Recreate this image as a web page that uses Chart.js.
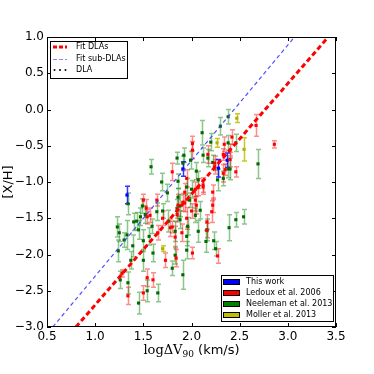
<!DOCTYPE html>
<html>
<head>
<meta charset="utf-8">
<script src="https://cdn.jsdelivr.net/npm/chart.js@4.4.0/dist/chart.umd.min.js"></script>
<style>
html,body{margin:0;padding:0;background:#fff;}
</style>
</head>
<body>
<canvas id="myChart" width="374" height="374"></canvas>
<script>
// values
const thisWorkX = [1.33, 1.91, 2.28, 2.37]
const thisWorkY = [-1.18, -0.82, -0.81, -0.70]
const thisWorkErr = [0.12, 0.10, 0.12, 0.10]

const mollerX = [2.47, 2.545, 2.265, 1.70]
const mollerY = [-0.12, -0.55, -0.46, -1.92]
const mollerErr = [0.06, 0.16, 0.06, 0.04]

const ledouxX = [2.67, 2.86, 2.46, 2.21, 2.16, 2.34, 2.40, 2.33, 2.24, 2.01, 2.12, 2.07, 2.04, 1.91, 1.28, 1.34, 1.54, 1.50, 1.57,
    1.53, 1.78, 1.73, 1.60, 1.83, 1.84, 2.01, 2.16, 2.27, 1.80, 2.05, 2.22, 1.80, 1.50, 1.54, 1.86, 1.93, 1.64, 2.01, 2.17, 2.42,
    2.33, 2.24, 2.12, 2.22, 1.93, 2.04, 2.35, 2.40, 1.95, 1.70, 1.65, 1.85, 1.95, 1.90, 2.00]
const ledouxY = [-0.22, -0.48, -0.86, -1.41, -1.67, -0.48, -0.56, -0.88, -0.74, -0.56, -1.04, -1.07, -1.25, -1.28, -2.26, -2.57, -2.32, -2.53, -1.46,
    -1.36, -1.63, -2.08, -2.35, -1.76, -2.05, -1.98, -1.55, -2.02, -1.62, -1.32, -1.32, -0.86, -1.25, -1.48, -1.32, -1.29, -1.25, -0.47, -0.62, -0.38,
    -0.62, -0.79, -1.07, -1.14, -1.14, -1.10, -0.83, -0.69, -0.95, -1.50, -1.70, -1.45, -1.50, -1.70, -1.40]
const ledouxErr = [0.15, 0.05, 0.07, 0.15, 0.10, 0.10, 0.08, 0.12, 0.10, 0.12, 0.10, 0.12, 0.15, 0.12, 0.05, 0.12, 0.12, 0.10, 0.10,
    0.12, 0.12, 0.10, 0.10, 0.15, 0.12, 0.08, 0.10, 0.10, 0.08, 0.12, 0.10, 0.12, 0.08, 0.10, 0.15, 0.12, 0.08, 0.10, 0.12, 0.10,
    0.08, 0.10, 0.10, 0.10, 0.12, 0.10, 0.08, 0.10, 0.12, 0.10, 0.10, 0.10, 0.15, 0.12, 0.10]

const neelemanX = [1.23, 1.25, 1.24, 1.33, 1.34, 1.37, 1.39, 1.43, 1.45, 1.49, 1.52, 1.50, 1.50, 1.56, 1.60, 1.59, 1.34, 1.26, 1.45, 1.65,
    1.54, 1.76, 1.85, 1.88, 1.96, 1.95, 1.83, 1.83, 1.80, 1.91, 1.95, 2.04, 2.09, 2.07, 2.15, 2.16, 2.23, 2.25, 2.39, 2.46,
    2.54, 1.58, 1.69, 1.92, 1.47, 1.64, 1.88, 1.95, 2.11, 1.99, 2.12, 2.17, 1.91, 1.85, 2.30, 2.38, 2.22, 2.07, 2.27, 1.86,
    1.86, 2.38, 2.33, 2.46, 2.40, 2.69, 2.38, 2.00, 1.98, 1.75, 1.70, 2.05, 2.20, 1.40, 1.30]
const neelemanY = [-1.62, -1.70, -1.95, -1.73, -1.30, -2.08, -1.88, -1.54, -1.66, -1.33, -1.45, -1.81, -2.08, -1.75, -1.98, -1.61, -2.39, -2.35, -2.67, -2.53,
    -2.50, -1.54, -1.37, -1.52, -1.61, -1.75, -1.68, -2.01, -2.19, -2.28, -1.94, -1.46, -1.39, -1.68, -1.82, -1.66, -1.81, -1.92, -1.63, -1.52,
    -1.48, -0.79, -1.00, -0.63, -1.48, -1.41, -1.33, -1.07, -0.32, -0.70, -0.63, -0.67, -0.74, -0.67, -0.23, -0.46, -0.73, -0.97, -0.97, -1.21,
    -0.99, -0.82, -0.95, -0.46, -0.82, -0.75, -0.10, -1.10, -1.25, -1.15, -1.40, -0.85, -0.45, -1.55, -1.80]
const neelemanErr = [0.14, 0.12, 0.15, 0.20, 0.15, 0.12, 0.15, 0.12, 0.13, 0.10, 0.12, 0.15, 0.15, 0.12, 0.12, 0.10, 0.15, 0.12, 0.15, 0.12,
    0.15, 0.15, 0.13, 0.12, 0.12, 0.13, 0.14, 0.12, 0.10, 0.20, 0.12, 0.10, 0.12, 0.15, 0.15, 0.15, 0.12, 0.10, 0.18, 0.10,
    0.10, 0.10, 0.12, 0.10, 0.12, 0.12, 0.15, 0.12, 0.17, 0.12, 0.10, 0.12, 0.10, 0.08, 0.12, 0.10, 0.10, 0.12, 0.15, 0.12,
    0.10, 0.12, 0.10, 0.12, 0.15, 0.20, 0.10, 0.12, 0.10, 0.12, 0.10, 0.12, 0.12, 0.12, 0.10]

// fit lines: end points where they cross the frame
const fitDlaX = [0.80, 3.42]
const fitDlaY = [-3.0, 1.0]
const fitSubX = [0.56, 3.07]
const fitSubY = [-3.0, 1.0]

const lineLabels = ['Fit DLAs', 'Fit sub-DLAs', 'DLA']
const sampleLabels = ['This work', 'Ledoux et al. 2006', 'Neeleman et al. 2013', 'Moller et al. 2013']
const sampleColors = ['#0000ff', '#ff0000', '#008000', '#bfbf00']

const xMin = 0.5, xMax = 3.5, yMin = -3.0, yMax = 1.0, tickStep = 0.5

const toPoints = (xs, ys) => xs.map((x, i) => ({ x, y: ys[i] }))

const sansFont = '"DejaVu Sans", sans-serif'

const errorBars = {
    id: 'errorBars',
    beforeDatasetsDraw(chart) {
        const ctx = chart.ctx
        const xs = chart.scales.x, ys = chart.scales.y
        ctx.save()
        ctx.beginPath()
        ctx.rect(chart.chartArea.left, chart.chartArea.top, chart.chartArea.width, chart.chartArea.height)
        ctx.clip()
        chart.data.datasets.forEach(ds => {
            if (!ds.errors) return
            ctx.strokeStyle = ds.barColor
            ctx.lineWidth = 1.5
            ds.data.forEach((p, j) => {
                const px = Math.round(xs.getPixelForValue(p.x)) + 0.5
                const top = ys.getPixelForValue(p.y + ds.errors[j])
                const bot = ys.getPixelForValue(p.y - ds.errors[j])
                ctx.beginPath()
                ctx.moveTo(px, top); ctx.lineTo(px, bot)
                ctx.moveTo(px - 2.5, top); ctx.lineTo(px + 2.5, top)
                ctx.moveTo(px - 2.5, bot); ctx.lineTo(px + 2.5, bot)
                ctx.stroke()
            })
        })
        ctx.restore()
    }
}

const frameAndLegends = {
    id: 'frameAndLegends',
    afterDraw(chart) {
        const ctx = chart.ctx
        const { left, right, top, bottom } = chart.chartArea
        const xs = chart.scales.x, ys = chart.scales.y
        ctx.save()

        // frame with inward ticks on all sides
        ctx.strokeStyle = '#000'
        ctx.lineWidth = 1
        ctx.strokeRect(left + 0.5, top + 0.5, right - left - 1, bottom - top - 1)
        ctx.beginPath()
        for (let v = xMin; v <= xMax + 1e-9; v += tickStep) {
            const px = Math.round(xs.getPixelForValue(v)) + 0.5
            ctx.moveTo(px, bottom); ctx.lineTo(px, bottom - 4)
            ctx.moveTo(px, top); ctx.lineTo(px, top + 4)
        }
        for (let v = yMin; v <= yMax + 1e-9; v += tickStep) {
            const py = Math.round(ys.getPixelForValue(v)) + 0.5
            ctx.moveTo(left, py); ctx.lineTo(left + 4, py)
            ctx.moveTo(right, py); ctx.lineTo(right - 4, py)
        }
        ctx.stroke()

        // axis titles
        ctx.fillStyle = '#000'
        ctx.textBaseline = 'alphabetic'
        const part1 = 'log\u0394V', part2 = '90', part3 = ' (km/s)'
        ctx.font = '13px "DejaVu Serif", serif'
        const w1 = ctx.measureText(part1).width
        ctx.font = '9px "DejaVu Serif", serif'
        const w2 = ctx.measureText(part2).width
        ctx.font = '13px ' + sansFont
        const w3 = ctx.measureText(part3).width
        let tx = (left + right) / 2 - (w1 + w2 + w3) / 2
        const ty = 354
        ctx.font = '13px "DejaVu Serif", serif'
        ctx.fillText(part1, tx, ty)
        tx += w1
        ctx.font = '9px "DejaVu Serif", serif'
        ctx.fillText(part2, tx, ty + 3)
        tx += w2
        ctx.font = '13px ' + sansFont
        ctx.fillText(part3, tx, ty)

        ctx.save()
        ctx.translate(9, (top + bottom) / 2)
        ctx.rotate(-Math.PI / 2)
        ctx.textAlign = 'center'
        ctx.textBaseline = 'middle'
        ctx.font = '13px ' + sansFont
        ctx.fillText('[X/H]', 0, 0)
        ctx.restore()

        // legend of the fit lines, top left
        ctx.fillStyle = '#fff'
        ctx.fillRect(50, 41, 77, 37)
        ctx.strokeStyle = '#000'
        ctx.strokeRect(50.5, 41.5, 77, 37)
        const rowsA = [47, 59, 70]
        ctx.lineWidth = 3
        ctx.strokeStyle = '#ff0000'
        ctx.setLineDash([4, 2])
        ctx.beginPath(); ctx.moveTo(53, rowsA[0]); ctx.lineTo(67, rowsA[0]); ctx.stroke()
        ctx.lineWidth = 1.2
        ctx.strokeStyle = 'rgba(60,60,255,0.6)'
        ctx.setLineDash([4, 2])
        ctx.beginPath(); ctx.moveTo(53, rowsA[1] + 0.5); ctx.lineTo(67, rowsA[1] + 0.5); ctx.stroke()
        ctx.setLineDash([])
        ctx.fillStyle = '#000'
        ;[54.5, 60, 65.5].forEach(dx => {
            ctx.beginPath(); ctx.arc(dx, rowsA[2], 1, 0, Math.PI * 2); ctx.fill()
        })
        ctx.lineWidth = 1
        ctx.font = '8px ' + sansFont
        ctx.textBaseline = 'middle'
        ctx.textAlign = 'left'
        lineLabels.forEach((t, i) => ctx.fillText(t, 76, rowsA[i]))

        // legend of the samples, bottom right
        ctx.fillStyle = '#fff'
        ctx.fillRect(221, 275, 112, 46)
        ctx.strokeStyle = '#000'
        ctx.strokeRect(221.5, 275.5, 112, 46)
        const rowsB = [282, 293, 304, 315]
        sampleLabels.forEach((t, i) => {
            ctx.fillStyle = sampleColors[i]
            ctx.fillRect(223.5, rowsB[i] - 2.5, 16, 5)
            ctx.strokeStyle = '#000'
            ctx.strokeRect(223.5, rowsB[i] - 2.5, 16, 5)
            ctx.fillStyle = '#000'
            ctx.fillText(t, 246, rowsB[i])
        })
        ctx.restore()
    }
}

const scatterSet = (label, xs, ys, errs, color, barColor) => ({
    type: 'scatter',
    label,
    data: toPoints(xs, ys),
    errors: errs,
    barColor,
    pointStyle: 'rect',
    pointRadius: 2.2,
    borderWidth: 0,
    backgroundColor: color
})

const fmt = v => v.toFixed(1).replace('-', '\u2212')

const ctx = document.getElementById('myChart')
const myChart = new Chart(ctx, {
    data: {
        datasets: [
            {
                type: 'line', label: lineLabels[0], data: toPoints(fitDlaX, fitDlaY),
                borderColor: '#ff0000', borderWidth: 3, borderDash: [5, 3], pointRadius: 0, fill: false
            },
            {
                type: 'line', label: lineLabels[1], data: toPoints(fitSubX, fitSubY),
                borderColor: 'rgba(50,50,255,0.85)', borderWidth: 1.2, borderDash: [4, 3], pointRadius: 0, fill: false
            },
            scatterSet(sampleLabels[1], ledouxX, ledouxY, ledouxErr, '#ff0000', 'rgba(255,0,0,0.45)'),
            scatterSet(sampleLabels[2], neelemanX, neelemanY, neelemanErr, '#006a00', 'rgba(0,128,0,0.45)'),
            scatterSet(sampleLabels[3], mollerX, mollerY, mollerErr, '#b0b000', 'rgba(191,191,0,0.85)'),
            scatterSet(sampleLabels[0], thisWorkX, thisWorkY, thisWorkErr, '#0000ff', 'rgba(0,0,255,0.8)')
        ]
    },
    options: {
        responsive: false,
        animation: false,
        events: [],
        layout: { padding: { top: 37, right: 38, left: 0, bottom: 0 } },
        plugins: { legend: { display: false }, tooltip: { enabled: false } },
        scales: {
            x: {
                type: 'linear', min: xMin, max: xMax,
                grid: { display: false, drawTicks: false }, border: { display: false },
                ticks: { stepSize: tickStep, callback: fmt, color: '#000', padding: 3, maxRotation: 0,
                    font: { family: sansFont, size: 12 } },
                afterFit(scale) { scale.height = 47 }
            },
            y: {
                type: 'linear', min: yMin, max: yMax,
                grid: { display: false, drawTicks: false }, border: { display: false },
                ticks: { stepSize: tickStep, callback: fmt, color: '#000', padding: 3,
                    font: { family: sansFont, size: 12 } },
                afterFit(scale) { scale.width = 47 }
            }
        }
    },
    plugins: [errorBars, frameAndLegends]
})
</script>
</body>
</html>
